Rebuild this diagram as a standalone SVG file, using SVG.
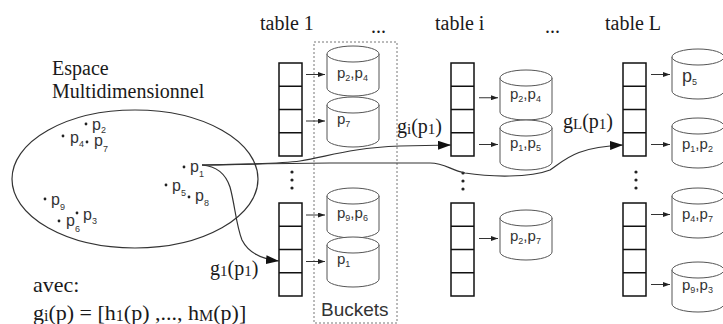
<svg xmlns="http://www.w3.org/2000/svg" width="723" height="324" viewBox="0 0 723 324">
<style>
.serif{font-family:"Liberation Serif","Times New Roman",serif;fill:#1a1a1a;font-size:20px}
.big{font-size:22px}
.sans{font-family:"Liberation Sans",Arial,sans-serif;fill:#333}
.pt{font-size:16px}
.bk{font-size:15px}
.s{font-size:9px}
.ss{font-size:15px}
.cell{fill:#fff;stroke:#111;stroke-width:1.5}
.cyl{fill:#fff;stroke:#555;stroke-width:1}
.conn{fill:none;stroke:#333;stroke-width:1.2}
.sm{fill:none;stroke:#333;stroke-width:1}
.dot{fill:#222}
</style>
<defs>
<marker id="big" markerWidth="13" markerHeight="9" refX="13" refY="4.5" orient="auto" markerUnits="userSpaceOnUse"><path d="M0,0 L13,4.5 L0,9 Z" fill="#111"/></marker>
<marker id="small" markerWidth="7" markerHeight="5" refX="7" refY="2.5" orient="auto" markerUnits="userSpaceOnUse"><path d="M0,0 L7,2.5 L0,5 Z" fill="#222"/></marker>
<g id="cyl"><path d="M0,8 A26,8 0 0 1 52,8 L52,42 A26,8 0 0 1 0,42 Z" class="cyl"/><path d="M0,8 A26,8 0 0 0 52,8" class="cyl" fill="none"/></g>
<g id="arr"><rect x="0" y="0" width="23" height="93" class="cell"/><path d="M0,23.25H23M0,46.5H23M0,69.75H23" stroke="#111" stroke-width="1.5"/></g>
<g id="vd"><circle cx="0" cy="0" r="1.6" class="dot"/><circle cx="0" cy="8" r="1.6" class="dot"/><circle cx="0" cy="16" r="1.6" class="dot"/></g>
</defs>
<rect width="723" height="324" fill="#fff"/>

<g id="space">
<text class="serif" x="52" y="75" font-size="20.5">Espace</text>
<text class="serif" x="52" y="98" font-size="20.5">Multidimensionnel</text>
<ellipse cx="135" cy="179" rx="123" ry="69" fill="none" stroke="#333" stroke-width="1.2"/>
<g class="sans pt">
<circle cx="86" cy="124" r="1.4" class="dot"/><text x="92" y="130">p<tspan class="s" dy="3">2</tspan></text>
<circle cx="63" cy="136" r="1.4" class="dot"/><text x="70" y="143">p<tspan class="s" dy="4">4</tspan></text>
<circle cx="87" cy="142" r="1.4" class="dot"/><text x="94" y="146">p<tspan class="s" dy="6">7</tspan></text>
<circle cx="184" cy="167" r="1.4" class="dot"/><text x="190" y="172">p<tspan class="s" dy="5">1</tspan></text>
<circle cx="166" cy="185" r="1.4" class="dot"/><text x="172" y="191">p<tspan class="s" dy="5">5</tspan></text>
<circle cx="189" cy="197" r="1.4" class="dot"/><text x="195" y="201">p<tspan class="s" dy="5">8</tspan></text>
<circle cx="45" cy="199" r="1.4" class="dot"/><text x="51" y="205">p<tspan class="s" dy="5">9</tspan></text>
<circle cx="59" cy="221" r="1.4" class="dot"/><text x="66" y="226">p<tspan class="s" dy="6">6</tspan></text>
<circle cx="77" cy="213" r="1.4" class="dot"/><text x="83" y="220">p<tspan class="s" dy="4">3</tspan></text>
</g>
</g>

<g id="table1">
<text class="serif" x="260" y="30">table 1</text>
<use href="#arr" x="279" y="63"/>
<use href="#vd" x="292" y="172"/>
<use href="#arr" x="279" y="203"/>
</g>
<text class="serif" x="371" y="33">...</text>
<g id="buckets">
<rect x="314" y="42" width="83" height="281" fill="none" stroke="#777" stroke-width="1" stroke-dasharray="2 2"/>
<g id="b1-1"><use href="#cyl" x="327" y="46"/><text class="sans bk" x="337" y="78">p<tspan class="s" dy="3">2</tspan><tspan dy="-3">,p</tspan><tspan class="s" dy="3">4</tspan></text></g>
<g id="b1-2"><use href="#cyl" x="327" y="97"/><text class="sans bk" x="337" y="124">p<tspan class="s" dy="3">7</tspan></text></g>
<g id="b1-3"><use href="#cyl" x="327" y="188"/><text class="sans bk" x="337" y="218">p<tspan class="s" dy="3">9</tspan><tspan dy="-3">,p</tspan><tspan class="s" dy="3">6</tspan></text></g>
<g id="b1-4"><use href="#cyl" x="327" y="237"/><text class="sans bk" x="337" y="264">p<tspan class="s" dy="3">1</tspan></text></g>
<text class="sans" font-size="19" x="321" y="316">Buckets</text>
</g>

<g id="tablei">
<text class="serif" x="435" y="30">table i</text>
<use href="#arr" x="451" y="63"/>
<use href="#vd" x="463" y="173"/>
<use href="#arr" x="451" y="203"/>
<g id="bi-1"><use href="#cyl" x="500" y="70"/><text class="sans bk" x="510" y="99">p<tspan class="s" dy="3">2</tspan><tspan dy="-3">,p</tspan><tspan class="s" dy="3">4</tspan></text></g>
<g id="bi-2"><use href="#cyl" x="500" y="120"/><text class="sans bk" x="510" y="148">p<tspan class="s" dy="3">1</tspan><tspan dy="-3">,p</tspan><tspan class="s" dy="3">5</tspan></text></g>
<g id="bi-3"><use href="#cyl" x="500" y="210"/><text class="sans bk" x="510" y="241">p<tspan class="s" dy="3">2</tspan><tspan dy="-3">,p</tspan><tspan class="s" dy="3">7</tspan></text></g>
</g>
<text class="serif" x="545" y="33">...</text>

<g id="tableL">
<text class="serif" x="605" y="30">table L</text>
<use href="#arr" x="623" y="63"/>
<use href="#vd" x="636" y="172"/>
<use href="#arr" x="623" y="203"/>
<g id="bL-1"><use href="#cyl" x="672" y="49"/><text class="sans" font-size="18" fill="#111" x="682" y="82">p<tspan class="s" dy="3">5</tspan></text></g>
<g id="bL-2"><use href="#cyl" x="672" y="118"/><text class="sans bk" x="682" y="149">p<tspan class="s" dy="3">1</tspan><tspan dy="-3">,p</tspan><tspan class="s" dy="3">2</tspan></text></g>
<g id="bL-3"><use href="#cyl" x="672" y="188"/><text class="sans bk" x="682" y="219">p<tspan class="s" dy="3">4</tspan><tspan dy="-3">,p</tspan><tspan class="s" dy="3">7</tspan></text></g>
<g id="bL-4"><use href="#cyl" x="672" y="262"/><text class="sans bk" x="682" y="290">p<tspan class="s" dy="3">9</tspan><tspan dy="-3">,p</tspan><tspan class="s" dy="3">3</tspan></text></g>
</g>

<g id="connectors">
<path class="conn" marker-end="url(#big)" d="M202,165 C250,164 280,164 300,161 C330,156 350,148 400,146 L451,145"/>
<path class="conn" marker-end="url(#big)" d="M202,165 C260,164 300,163 330,163 L430,163 C445,163 450,170 465,173 C490,177 530,178 550,170 C565,160 575,147 623,145"/>
<path class="conn" marker-end="url(#big)" d="M202,165 C215,166 225,172 230,187 C235,205 236,225 242,240 C248,252 260,259 279,261"/>
<g class="sm" marker-end="url(#small)">
<path d="M306,74.5H325"/><path d="M306,121H325"/><path d="M306,215H325"/><path d="M306,261.5H325"/>
<path d="M479,97.75H498"/><path d="M479,144.5H498"/><path d="M479,238.5H498"/>
<path d="M651,74.5H670"/><path d="M651,144.5H670"/><path d="M651,214.5H670"/><path d="M651,284.5H670"/>
</g>
</g>

<g id="labels">
<text class="serif" x="397" y="133">g<tspan class="ss" dy="1">i</tspan><tspan dy="-1">(p</tspan><tspan class="ss" dy="1">1</tspan><tspan dy="-1">)</tspan></text>
<text class="serif" x="563" y="128">g<tspan class="ss" dy="1">L</tspan><tspan dy="-1">(p</tspan><tspan class="ss" dy="1">1</tspan><tspan dy="-1">)</tspan></text>
<text class="serif" x="210" y="275" font-size="21">g<tspan class="ss" dy="1">1</tspan><tspan dy="-1">(p</tspan><tspan class="ss" dy="1">1</tspan><tspan dy="-1">)</tspan></text>
<text class="serif big" x="33" y="292">avec:</text>
<text class="serif big" x="33" y="320">g<tspan font-size="16" dy="1">i</tspan><tspan dy="-1">(p) = [h</tspan><tspan font-size="16" dy="1">1</tspan><tspan dy="-1">(p) ,..., h</tspan><tspan font-size="16" dy="1">M</tspan><tspan dy="-1">(p)]</tspan></text>
</g>
</svg>
